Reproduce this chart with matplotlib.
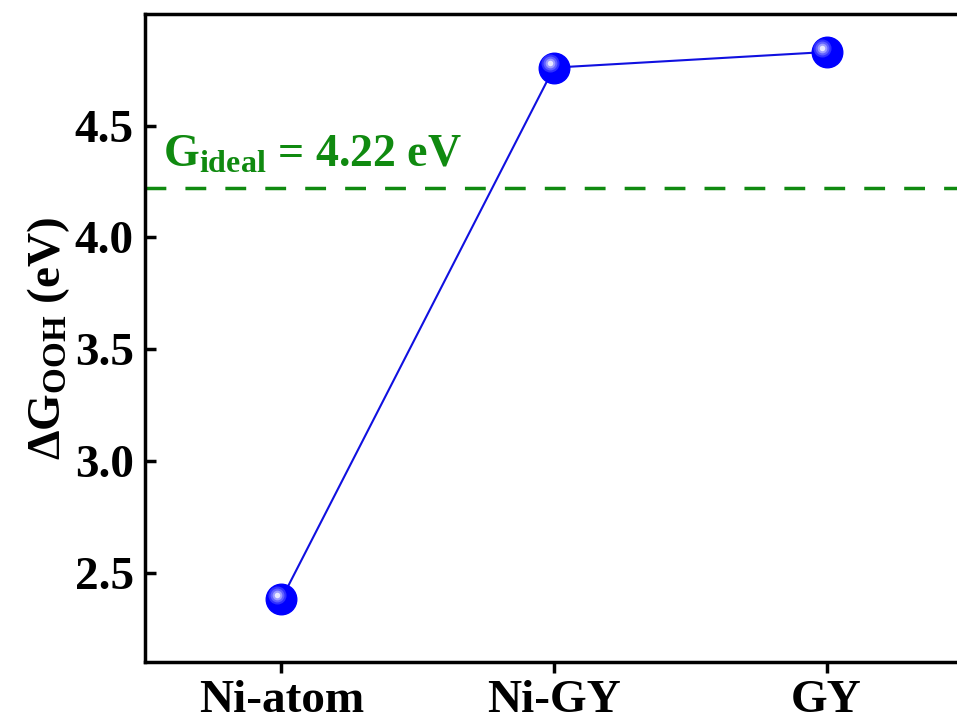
import numpy as np
import matplotlib
matplotlib.use("Agg")
import matplotlib.pyplot as plt
import matplotlib.transforms as mtransforms

plt.rcParams['font.family'] = ['Liberation Serif', 'DejaVu Serif']
plt.rcParams['font.weight'] = 'bold'
plt.rcParams['mathtext.fontset'] = 'custom'
plt.rcParams['mathtext.rm'] = 'Liberation Serif:bold'
plt.rcParams['mathtext.bf'] = 'Liberation Serif:bold'
plt.rcParams['mathtext.it'] = 'Liberation Serif:bold:italic'

# Data
categories = ["Ni-atom", "Ni-GY", "GY"]
dG_ooh = [2.38, 4.76, 4.83]
g_ideal = 4.22
y_ticks = [2.5, 3.0, 3.5, 4.0, 4.5]

fig = plt.figure(figsize=(9.57, 7.22), dpi=100)
ax = fig.add_axes([0.1515, 0.0831, 0.8547, 0.8975])

x = np.arange(len(categories))
ax.plot(x, dG_ooh, color="#1010e0", lw=1.5, zorder=2)

# sphere-like markers: base ball + offset highlight
ax.plot(x, dG_ooh, 'o', ms=22, color="#0000ff", mec="#0000ff", zorder=3)
hl = mtransforms.offset_copy(ax.transData, fig=fig, x=-3.0, y=3.0, units='points')
for ms, c in [(13, "#3030ff"), (10, "#6060ff"), (7, "#9c9cff"), (4, "#e8e8ff")]:
    ax.plot(x, dG_ooh, 'o', ms=ms, color=c, mec='none', transform=hl, zorder=4)

ax.axhline(g_ideal, color="#108a10", lw=2.5, ls=(0, (6, 5.5)), zorder=1)
ax.text(0.022, g_ideal + 0.098, r"G$_{\mathrm{ideal}}$ = 4.22 eV", color="#108a10",
        fontsize=33, fontweight='bold', transform=ax.get_yaxis_transform(),
        ha="left", va="baseline")

ax.set_xlim(-0.5, 2.5)
ax.set_ylim(2.1, 5.0)
ax.set_xticks(x)
ax.set_xticklabels(categories)
ax.set_yticks(y_ticks)
ax.set_yticklabels([f"{v:.1f}" for v in y_ticks])

ax.set_ylabel(r"$\Delta$G$_{\mathrm{OOH}}$ (eV)", fontsize=34, fontweight='bold', labelpad=2)

for s in ax.spines.values():
    s.set_linewidth(2.5)
ax.tick_params(axis='y', direction='in', length=8, width=2.5, labelsize=34, pad=8)
ax.tick_params(axis='x', direction='out', length=8, width=2.5, labelsize=34, pad=5)

fig.savefig("out.png", dpi=100)
